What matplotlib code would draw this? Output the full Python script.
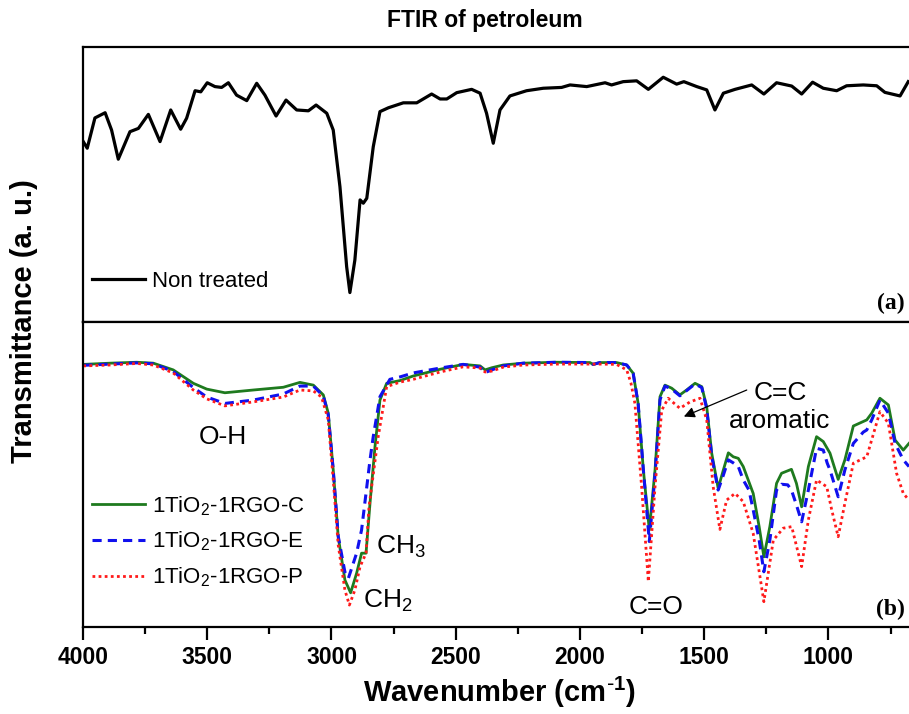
import matplotlib
matplotlib.use("Agg")
import matplotlib.pyplot as plt
from matplotlib.ticker import MultipleLocator

plt.rcParams['font.family'] = ['Liberation Sans', 'DejaVu Sans']
plt.rcParams['mathtext.default'] = 'regular'

# ---------------- data ----------------
# (a) Non treated petroleum
wn_top = [3999, 3983, 3952, 3911, 3885, 3858, 3811, 3777, 3737, 3690, 3647, 3607, 3583,
          3549, 3526, 3500, 3469, 3442, 3415, 3382, 3341, 3301, 3268, 3223, 3183, 3140,
          3093, 3062, 3019, 2993, 2966, 2939, 2926, 2906, 2885, 2872, 2858, 2832, 2805,
          2771, 2711, 2657, 2597, 2563, 2536, 2496, 2436, 2402, 2376, 2349, 2322, 2282,
          2215, 2148, 2074, 2040, 1973, 1899, 1873, 1826, 1772, 1725, 1665, 1611, 1582,
          1530, 1490, 1457, 1423, 1376, 1309, 1260, 1209, 1148, 1108, 1064, 1021, 967,
          927, 860, 806, 773, 712, 679]
t_untreated = [0.656, 0.632, 0.742, 0.761, 0.698, 0.592, 0.692, 0.704, 0.755, 0.656, 0.771,
               0.701, 0.741, 0.841, 0.837, 0.870, 0.856, 0.853, 0.870, 0.825, 0.805, 0.868,
               0.825, 0.749, 0.807, 0.771, 0.768, 0.789, 0.759, 0.698, 0.492, 0.201, 0.107,
               0.225, 0.444, 0.432, 0.450, 0.637, 0.765, 0.779, 0.797, 0.797, 0.829, 0.811,
               0.811, 0.834, 0.846, 0.832, 0.759, 0.650, 0.771, 0.822, 0.841, 0.850, 0.853,
               0.862, 0.856, 0.870, 0.862, 0.874, 0.877, 0.846, 0.890, 0.865, 0.874, 0.856,
               0.844, 0.771, 0.832, 0.846, 0.862, 0.829, 0.870, 0.858, 0.829, 0.872, 0.850,
               0.841, 0.859, 0.862, 0.859, 0.835, 0.822, 0.874]

# (b) 1TiO2-1RGO-C
wn_c = [3999, 3891, 3784, 3717, 3637, 3556, 3502, 3429, 3315, 3194, 3127, 3073, 3033, 3013,
        2993, 2973, 2946, 2923, 2899, 2879, 2861, 2845, 2825, 2805, 2778, 2724, 2671, 2563,
        2470, 2402, 2382, 2355, 2309, 2228, 2094, 1960, 1947, 1920, 1853, 1812, 1786, 1766,
        1745, 1721, 1698, 1678, 1658, 1631, 1598, 1571, 1537, 1510, 1490, 1470, 1444, 1423,
        1403, 1383, 1363, 1343, 1303, 1279, 1260, 1236, 1209, 1189, 1149, 1129, 1108, 1081,
        1048, 1021, 994, 961, 934, 900, 846, 826, 793, 759, 732, 699, 676]
t_c = [0.861, 0.865, 0.868, 0.865, 0.843, 0.799, 0.780, 0.768, 0.777, 0.786, 0.802, 0.793,
       0.761, 0.701, 0.515, 0.296, 0.154, 0.112, 0.176, 0.242, 0.242, 0.406, 0.591, 0.744,
       0.799, 0.808, 0.823, 0.845, 0.861, 0.856, 0.843, 0.850, 0.859, 0.865, 0.868, 0.867,
       0.861, 0.867, 0.867, 0.859, 0.832, 0.733, 0.515, 0.318, 0.515, 0.755, 0.793, 0.783,
       0.761, 0.777, 0.799, 0.788, 0.722, 0.570, 0.455, 0.515, 0.571, 0.558, 0.553, 0.526,
       0.438, 0.329, 0.230, 0.329, 0.471, 0.504, 0.517, 0.471, 0.394, 0.526, 0.624, 0.608,
       0.570, 0.484, 0.548, 0.659, 0.679, 0.701, 0.750, 0.728, 0.613, 0.580, 0.602]

# (b) 1TiO2-1RGO-E
wn_e = [3999, 3891, 3784, 3717, 3637, 3556, 3502, 3429, 3315, 3194, 3127, 3073, 3033, 3013,
        2993, 2973, 2946, 2932, 2899, 2879, 2861, 2845, 2832, 2805, 2765, 2724, 2671, 2563,
        2470, 2402, 2382, 2355, 2309, 2228, 2094, 1960, 1947, 1920, 1853, 1812, 1786, 1766,
        1745, 1721, 1698, 1678, 1658, 1631, 1598, 1571, 1537, 1510, 1490, 1470, 1444, 1423,
        1403, 1383, 1363, 1343, 1320, 1303, 1279, 1260, 1236, 1209, 1189, 1164, 1149, 1129,
        1108, 1081, 1048, 1021, 1005, 994, 961, 934, 900, 860, 846, 826, 793, 759, 732, 699,
        676]
t_e = [0.858, 0.862, 0.866, 0.863, 0.838, 0.785, 0.754, 0.733, 0.744, 0.764, 0.790, 0.790,
       0.757, 0.695, 0.515, 0.298, 0.180, 0.160, 0.242, 0.318, 0.439, 0.548, 0.624, 0.755,
       0.812, 0.820, 0.833, 0.849, 0.861, 0.852, 0.834, 0.843, 0.856, 0.865, 0.868, 0.867,
       0.861, 0.867, 0.867, 0.859, 0.832, 0.733, 0.515, 0.280, 0.500, 0.745, 0.790, 0.780,
       0.758, 0.775, 0.797, 0.785, 0.715, 0.560, 0.449, 0.498, 0.548, 0.538, 0.526, 0.482,
       0.449, 0.384, 0.285, 0.181, 0.285, 0.449, 0.468, 0.466, 0.449, 0.400, 0.345, 0.449,
       0.586, 0.580, 0.537, 0.515, 0.427, 0.515, 0.602, 0.639, 0.646, 0.679, 0.744, 0.701,
       0.602, 0.548, 0.526]

# (b) 1TiO2-1RGO-P
wn_p = [3999, 3891, 3784, 3717, 3637, 3556, 3502, 3429, 3315, 3194, 3127, 3073, 3040, 3013,
        2993, 2973, 2946, 2928, 2906, 2885, 2861, 2849, 2812, 2778, 2724, 2671, 2563, 2470,
        2402, 2382, 2355, 2309, 2228, 2094, 1960, 1920, 1853, 1812, 1795, 1779, 1752, 1725,
        1698, 1671, 1645, 1598, 1557, 1517, 1490, 1464, 1437, 1410, 1376, 1343, 1303, 1260,
        1222, 1182, 1148, 1128, 1108, 1081, 1048, 1007, 987, 961, 934, 900, 846, 793, 759,
        726, 699, 676]
t_p = [0.856, 0.859, 0.864, 0.859, 0.833, 0.777, 0.748, 0.725, 0.738, 0.754, 0.777, 0.774,
       0.754, 0.679, 0.482, 0.269, 0.121, 0.072, 0.121, 0.198, 0.242, 0.394, 0.624, 0.788,
       0.803, 0.812, 0.836, 0.853, 0.849, 0.836, 0.839, 0.852, 0.859, 0.862, 0.862, 0.862,
       0.861, 0.843, 0.800, 0.733, 0.460, 0.149, 0.460, 0.711, 0.750, 0.717, 0.738, 0.750,
       0.679, 0.460, 0.320, 0.416, 0.438, 0.411, 0.307, 0.083, 0.285, 0.324, 0.329, 0.263,
       0.198, 0.351, 0.482, 0.460, 0.384, 0.296, 0.406, 0.537, 0.558, 0.706, 0.668, 0.504,
       0.438, 0.416]

labels_b = ['1TiO$_2$-1RGO-C', '1TiO$_2$-1RGO-E', '1TiO$_2$-1RGO-P']
x_ticks = [4000, 3500, 3000, 2500, 2000, 1500, 1000]

# ---------------- figure ----------------
W, H = 909, 714
fig = plt.figure(figsize=(W / 100, H / 100), dpi=100)

def frac_box(x0, y0, x1, y1):
    return [x0 / W, 1 - y1 / H, (x1 - x0) / W, (y1 - y0) / H]

ax1 = fig.add_axes(frac_box(83, 47, 909, 322))
ax2 = fig.add_axes(frac_box(83, 322, 909, 627), sharex=ax1)

for ax in (ax1, ax2):
    ax.set_xlim(4000, 676)
    ax.set_ylim(0, 1)
    ax.set_yticks([])
    for s in ax.spines.values():
        s.set_linewidth(1.6)
        s.set_color('black')
    ax.spines['right'].set_visible(False)

ax1.tick_params(axis='x', which='both', bottom=False, labelbottom=False)

ax1.plot(wn_top, t_untreated, color='black', lw=2.3, solid_joinstyle='round',
         label='Non treated')
ax2.plot(wn_c, t_c, color='#1e7a1e', lw=2.0, ls='-', solid_joinstyle='round',
         label=labels_b[0])
ax2.plot(wn_e, t_e, color='#1010ee', lw=2.2, ls=(0, (3, 2)), label=labels_b[1])
ax2.plot(wn_p, t_p, color='#ff1a1a', lw=2.0, ls=(0, (1, 1.2)), label=labels_b[2])

ax2.xaxis.set_minor_locator(MultipleLocator(250))
ax2.set_xticks(x_ticks)
ax2.set_xticklabels([str(v) for v in x_ticks])
ax2.tick_params(axis='x', which='major', direction='out', length=9, width=1.6,
                labelsize=16.5, pad=5)
ax2.tick_params(axis='x', which='minor', direction='out', length=5, width=1.6)
for lab in ax2.get_xticklabels():
    lab.set_fontweight('bold')

ax1.legend(loc='center left', bbox_to_anchor=(0.0105, 0.147), frameon=False,
           fontsize=16, handlelength=2.4, handletextpad=0.3, borderpad=0,
           borderaxespad=0)
ax2.legend(loc='center left', bbox_to_anchor=(0.0105, 0.28), frameon=False,
           fontsize=16, handlelength=2.4, handletextpad=0.3, borderpad=0,
           borderaxespad=0, labelspacing=0.55)

# annotations
ann = dict(fontsize=19, color='black')
ax2.text(3439, 0.623, 'O-H', ha='center', va='center', **ann)
ax2.text(2821, 0.263, 'CH$_3$', ha='left', va='center', **ann)
ax2.text(2872, 0.085, 'CH$_2$', ha='left', va='center', **ann)
ax2.text(1693, 0.064, 'C=O', ha='center', va='center', **ann)
ax2.text(1195, 0.722, 'C=C\naromatic', ha='center', va='center', linespacing=1.2, **ann)
ax2.annotate('', xy=(1582, 0.690), xytext=(1329, 0.777),
             arrowprops=dict(arrowstyle='-|>', color='black', lw=0.9, mutation_scale=16,
                             shrinkA=0, shrinkB=0))

ax1.text(0.995, 0.069, '(a)', transform=ax1.transAxes, ha='right', va='center',
         fontsize=17, fontweight='bold', family='Liberation Serif')
ax2.text(0.995, 0.056, '(b)', transform=ax2.transAxes, ha='right', va='center',
         fontsize=17, fontweight='bold', family='Liberation Serif')

fig.text(485 / W, 1 - 21 / H, 'FTIR of petroleum', ha='center', va='center',
         fontsize=16.5, fontweight='bold')
fig.text(24 / W, 1 - 321 / H, 'Transmittance (a. u.)', ha='center', va='center',
         rotation=90, fontsize=21, fontweight='bold')
fig.text(499 / W, 1 - 692 / H, r'Wavenumber (cm$^{\text{-}1}$)', ha='center', va='center',
         fontsize=21, fontweight='bold')

fig.savefig('out.png', dpi=100)
